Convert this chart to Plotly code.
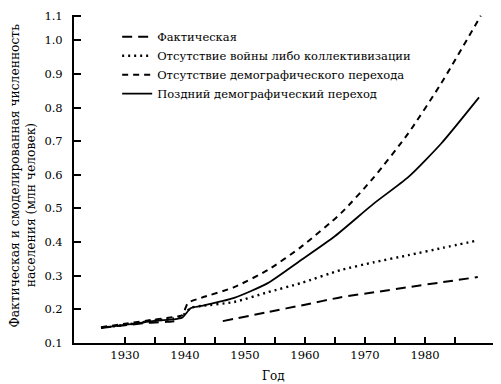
import plotly.graph_objects as go

years_actual = [1926, 1930, 1934, 1937, 1939, 1940, 1946.3, 1953.8, 1960, 1966, 1972, 1977.2, 1983, 1988.8]
vals_actual = [0.145, 0.153, 0.16, 0.163, 0.166, None, 0.165, 0.192, 0.214, 0.236, 0.252, 0.266, 0.281, 0.296]

years_nowar = [1926, 1930, 1935, 1938, 1939.5, 1941, 1942.7, 1948.2, 1953.8, 1959.3, 1966, 1971.5, 1977.2, 1983, 1988.8]
vals_nowar = [0.145, 0.154, 0.167, 0.172, 0.18, 0.205, 0.21, 0.222, 0.251, 0.278, 0.317, 0.34, 0.361, 0.383, 0.405]

years_nodemo = [1926, 1930, 1935, 1938, 1939.5, 1940.5, 1942.7, 1948.2, 1953.8, 1959.3, 1966, 1971.5, 1977.2, 1982.7, 1989.3]
vals_nodemo = [0.147, 0.157, 0.17, 0.177, 0.182, 0.219, 0.234, 0.266, 0.317, 0.385, 0.486, 0.593, 0.723, 0.872, 1.073]

years_late = [1926, 1930, 1935, 1938, 1939.5, 1941, 1942.7, 1948.2, 1953.8, 1959.3, 1964.8, 1971.5, 1977.2, 1982.7, 1989]
vals_late = [0.145, 0.154, 0.166, 0.17, 0.175, 0.204, 0.21, 0.234, 0.278, 0.346, 0.415, 0.515, 0.593, 0.693, 0.83]

names = ["Фактическая", "Отсутствие войны либо коллективизации",
         "Отсутствие демографического перехода", "Поздний демографический переход"]

x_tickvals = [1930, 1935, 1940, 1945, 1950, 1955, 1960, 1965, 1970, 1975, 1980, 1985]
x_ticktext = ["1930", "", "1940", "", "1950", "", "1960", "", "1970", "", "1980", ""]
y_tickvals = [0.1, 0.2, 0.3, 0.4, 0.5, 0.6, 0.7, 0.8, 0.9, 1.0, 1.072]
y_ticktext = ["0.1", "0.2", "0.3", "0.4", "0.5", "0.6", "0.7", "0.8", "0.9", "1.0", "1.1"]

y_title_1 = "Фактическая и смоделированная численность"
y_title_2 = "населения (млн человек)"
x_title = "Год"

serif = "DejaVu Serif"

fig = go.Figure()
fig.add_trace(go.Scatter(x=years_actual, y=vals_actual, mode="lines", name=names[0],
                         line=dict(color="black", width=2, dash="10px,6px", shape="spline", smoothing=0.6),
                         connectgaps=False))
fig.add_trace(go.Scatter(x=years_nowar, y=vals_nowar, mode="lines", name=names[1],
                         line=dict(color="black", width=2.4, dash="2px,4px", shape="spline", smoothing=0.6)))
fig.add_trace(go.Scatter(x=years_nodemo, y=vals_nodemo, mode="lines", name=names[2],
                         line=dict(color="black", width=2, dash="6px,5px", shape="spline", smoothing=0.6)))
fig.add_trace(go.Scatter(x=years_late, y=vals_late, mode="lines", name=names[3],
                         line=dict(color="black", width=1.8, shape="spline", smoothing=0.6)))

fig.update_layout(
    width=485, height=376,
    margin=dict(l=66, r=0, t=7, b=41, autoexpand=False),
    paper_bgcolor="white", plot_bgcolor="white",
    font=dict(family=serif, size=12, color="black"),
    showlegend=True,
    legend=dict(x=0.103, y=0.978, xanchor="left", yanchor="top", bgcolor="rgba(0,0,0,0)",
                font=dict(family=serif, size=11.5), tracegroupgap=0, itemwidth=30),
    xaxis=dict(range=[1921.5, 1991.33], tickvals=x_tickvals, ticktext=x_ticktext,
               ticks="inside", ticklen=6, tickwidth=1.5, tickcolor="black",
               showline=True, linecolor="black", linewidth=2, showgrid=False, zeroline=False,
               tickfont=dict(family=serif, size=11.5), automargin=False),
    yaxis=dict(range=[0.1, 1.075], tickvals=y_tickvals, ticktext=y_ticktext,
               ticks="inside", ticklen=7, tickwidth=1.5, tickcolor="black",
               showline=True, linecolor="black", linewidth=2, showgrid=False, zeroline=False,
               tickfont=dict(family=serif, size=11.5), automargin=False, ticklabelstandoff=7),
    annotations=[
        dict(text=y_title_1, xref="paper", yref="paper", x=-0.1396, y=0.509, xanchor="center",
             yanchor="middle", textangle=-90, showarrow=False, font=dict(family=serif, size=12.3)),
        dict(text=y_title_2, xref="paper", yref="paper", x=-0.1026, y=0.42, xanchor="center",
             yanchor="middle", textangle=-90, showarrow=False, font=dict(family=serif, size=12.3)),
        dict(text=x_title, xref="paper", yref="paper", x=0.475, y=-0.10, xanchor="center",
             yanchor="middle", showarrow=False, font=dict(family=serif, size=12)),
    ],
)

fig.write_html("out.html")
